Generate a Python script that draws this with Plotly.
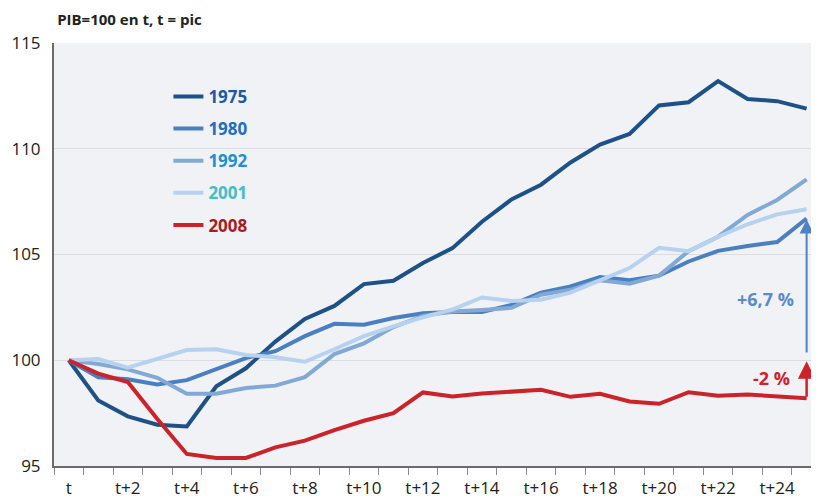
import plotly.graph_objects as go

# ---- data ----
periods = list(range(26))
tick_positions = list(range(0, 25, 2))
tick_labels = ["t"] + [f"t+{k}" for k in range(2, 25, 2)]

s1975 = [100, 98.1, 97.35, 96.95, 96.87, 98.77, 99.62, 100.88, 101.95, 102.57, 103.6, 103.76,
         104.6, 105.3, 106.55, 107.6, 108.3, 109.35, 110.2, 110.7, 112.05, 112.2, 113.2, 112.35,
         112.25, 111.9]
s1980 = [100, 99.2, 99.1, 98.85, 99.06, 99.56, 100.1, 100.43, 101.14, 101.72, 101.68, 102.0,
         102.22, 102.28, 102.28, 102.62, 103.2, 103.49, 103.94, 103.78, 104.0, 104.67, 105.17,
         105.4, 105.59, 106.7]
s1992 = [100, 99.82, 99.57, 99.17, 98.42, 98.42, 98.69, 98.8, 99.2, 100.29, 100.8, 101.57,
         102.1, 102.3, 102.38, 102.48, 103.1, 103.33, 103.78, 103.62, 104.0, 105.16, 105.84,
         106.87, 107.58, 108.55]
s2001 = [100, 100.06, 99.65, 100.08, 100.48, 100.52, 100.25, 100.14, 99.93, 100.52, 101.14,
         101.6, 102.03, 102.4, 102.97, 102.8, 102.86, 103.2, 103.8, 104.36, 105.32, 105.16,
         105.84, 106.43, 106.9, 107.14]
s2008 = [100, 99.37, 98.97, 97.22, 95.57, 95.38, 95.38, 95.88, 96.2, 96.7, 97.14, 97.5,
         98.48, 98.29, 98.43, 98.5, 98.6, 98.27, 98.41, 98.05, 97.94, 98.49, 98.32, 98.38,
         98.29, 98.2]

series = [
    ("1975", s1975, "#1d5288", "#1b5aa6"),
    ("1980", s1980, "#4a7fc1", "#1f70c0"),
    ("1992", s1992, "#82a9d6", "#1e90d6"),
    ("2001", s2001, "#b6d2ee", "#45bdc4"),
    ("2008", s2008, "#cc2229", "#a71d25"),
]

FONT = "Open Sans"

fig = go.Figure()
for i, (name, vals, lc, tc) in enumerate(series):
    fig.add_trace(go.Scatter(
        x=periods, y=vals, mode="lines", name=f'<span style="color:{tc}"><b>{name}</b></span>',
        line=dict(color=lc, width=4), legendgroup=f"g{i}",
    ))

# arrows and labels
fig.add_annotation(x=25, y=s1980[-1] - 0.05, ax=25, ay=100.3, xref="x", yref="y", axref="x", ayref="y",
                   showarrow=True, arrowhead=2, arrowsize=1.4, arrowwidth=2, arrowcolor="#4f82c3", text="")
fig.add_annotation(x=23.6, y=102.9, text="<b>+6,7 %</b>", showarrow=False,
                   font=dict(family=FONT, size=18, color="#5a8bc8"))
fig.add_annotation(x=25, y=99.95, ax=25, ay=s2008[-1], xref="x", yref="y", axref="x", ayref="y",
                   showarrow=True, arrowhead=2, arrowsize=1.4, arrowwidth=2.5, arrowcolor="#cc2229", text="")
fig.add_annotation(x=23.8, y=99.15, text="<b>-2 %</b>", showarrow=False,
                   font=dict(family=FONT, size=18, color="#cc2229"))

fig.update_layout(
    width=819, height=501,
    margin=dict(l=46, r=0, t=35, b=43),
    paper_bgcolor="white", plot_bgcolor="#f0f2f5",
    font=dict(family=FONT, size=17, color="#222222"),
    title=dict(text="<b>PIB=100 en t, t = pic</b>", xref="container", yref="container",
               x=0.06, xanchor="left", y=0.976, yanchor="middle",
               font=dict(family=FONT, size=15, color="#222222")),
    showlegend=True,
    legend=dict(x=0.148, y=0.915, xanchor="left", yanchor="top", bgcolor="rgba(0,0,0,0)",
                font=dict(family=FONT, size=17), tracegroupgap=7, itemwidth=30),
    xaxis=dict(range=[-0.5, 25.69], tickmode="array", tickvals=tick_positions, ticktext=tick_labels,
               showgrid=False, zeroline=False, showline=True, linecolor="#6b6b6b", linewidth=2,
               ticks="", tickfont=dict(size=17, color="#222222"), ticklabelstandoff=6,
               minor=dict(tickmode="linear", tick0=0.5, dtick=1, ticks="outside", ticklen=7,
                          tickcolor="#8a8a8a", tickwidth=1, showgrid=False)),
    yaxis=dict(range=[95, 115], tickvals=[95, 100, 105, 110, 115], showgrid=True,
               gridcolor="#dcdde0", gridwidth=1, zeroline=False, showline=True, linecolor="#6b6b6b",
               linewidth=2, ticks="", tickfont=dict(size=17, color="#222222"), ticklabelstandoff=8),
)

fig.write_html("out.html")
